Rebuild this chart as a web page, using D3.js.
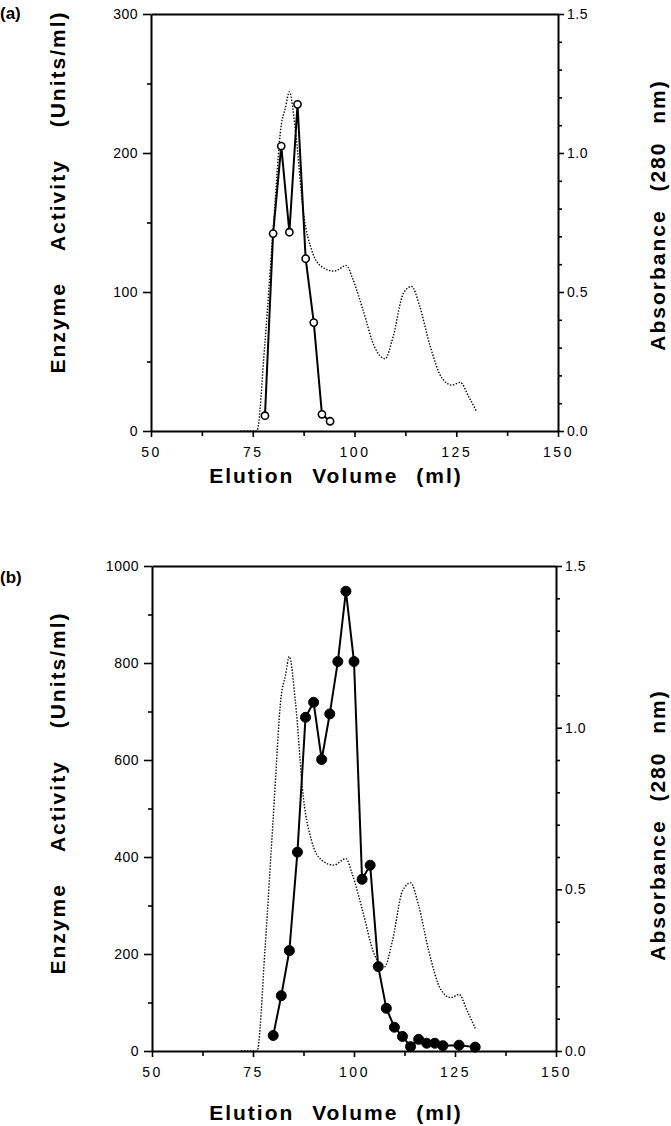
<!DOCTYPE html>
<html>
<head>
<meta charset="utf-8">
<script src="https://cdn.jsdelivr.net/npm/d3@7"></script>
<style>
  html, body { margin: 0; padding: 0; background: #fff; }
  svg { display: block; }
  text { font-family: "Liberation Sans", Arial, sans-serif; fill: #000; }
  .tick text { font-size: 14px; }
  .x-axis .tick text { letter-spacing: 2.5px; }
  .y-axis .tick text { letter-spacing: 0.5px; }
  .title { font-size: 21px; font-weight: bold; letter-spacing: 2px; }
  .title.vert { word-spacing: 24px; }
  .title.horiz { word-spacing: 10px; }
  .tag { font-size: 17px; font-weight: bold; }
</style>
</head>
<body>
<script>
// elution volume (ml) and absorbance at 280 nm, same column profile in both runs
const absVolume = [72, 76, 78, 80, 82, 83, 84, 85.5, 87.5, 89.5, 92, 95, 98, 99.5, 102, 105, 107.5, 109.5, 112, 114, 116, 118.5, 121.5, 124, 126, 128, 130];
const absValues = [0, 0, 0.32, 0.72, 1.10, 1.16, 1.22, 1.08, 0.78, 0.65, 0.59, 0.575, 0.595, 0.55, 0.44, 0.30, 0.26, 0.34, 0.495, 0.52, 0.45, 0.31, 0.19, 0.165, 0.175, 0.125, 0.07];

// panel (a) enzyme activity, open circles
const volumeA = [78, 80, 82, 84, 86, 88, 90, 92, 94];
const activityA = [11, 142, 205, 143, 235, 124, 78, 12, 7];

// panel (b) enzyme activity, filled circles
const volumeB = [80, 82, 84, 86, 88, 90, 92, 94, 96, 98, 100, 102, 104, 106, 108, 110, 112, 114, 116, 118, 120, 122, 126, 130];
const activityB = [32, 114, 207, 410, 688, 719, 601, 695, 803, 948, 803, 354, 383, 174, 88, 49, 30, 9, 24, 16, 16, 11, 12, 8];

const xTicks = [50, 75, 100, 125, 150];
const xMinor = [62.5, 87.5, 112.5, 137.5];
const absTicks = [0, 0.5, 1.0, 1.5];
const absMinor = [0.1, 0.2, 0.3, 0.4, 0.6, 0.7, 0.8, 0.9, 1.1, 1.2, 1.3, 1.4];

const w = 671, h = 1126;

const svg = d3.select('body').append('svg')
  .attr('width', w)
  .attr('height', h);

const drawPanel = (p) => {
  const g = svg.append('g');

  const x = d3.scaleLinear().domain([50, 150]).range([p.left, p.right]);
  const yL = d3.scaleLinear().domain([0, p.yMax]).range([p.bottom, p.top]);
  const yR = d3.scaleLinear().domain([0, 1.5]).range([p.bottom, p.top]);

  const thick = sel => sel.select('.domain').attr('stroke-width', 2).attr('stroke', '#000');
  const ticks = sel => sel.selectAll('.tick line').attr('stroke-width', 1.6).attr('stroke', '#000');

  // minor ticks first so majors sit on top
  g.append('g')
    .attr('transform', `translate(0,${p.bottom})`)
    .call(d3.axisBottom(x).tickValues(xMinor).tickSize(5).tickFormat(''))
    .call(ticks).select('.domain').remove();
  g.append('g')
    .attr('transform', `translate(${p.left},0)`)
    .call(d3.axisLeft(yL).tickValues(p.yMinor).tickSize(4).tickFormat(''))
    .call(ticks).select('.domain').remove();
  g.append('g')
    .attr('transform', `translate(${p.right},0)`)
    .call(d3.axisRight(yR).tickValues(absMinor).tickSize(4).tickFormat(''))
    .call(ticks).select('.domain').remove();

  // top frame
  g.append('g')
    .attr('transform', `translate(0,${p.top})`)
    .call(d3.axisTop(x).tickValues([]).tickSizeOuter(0))
    .call(thick);

  g.append('g')
    .attr('class', 'x-axis')
    .attr('transform', `translate(0,${p.bottom})`)
    .call(d3.axisBottom(x).tickValues(xTicks).tickSize(6).tickSizeOuter(0).tickPadding(10))
    .call(thick).call(ticks);

  g.append('g')
    .attr('class', 'y-axis')
    .attr('transform', `translate(${p.left},0)`)
    .call(d3.axisLeft(yL).tickValues(p.yTicks).tickFormat(d3.format('d')).tickSize(8).tickSizeOuter(0).tickPadding(5))
    .call(thick).call(ticks);

  g.append('g')
    .attr('class', 'y-axis')
    .attr('transform', `translate(${p.right},0)`)
    .call(d3.axisRight(yR).tickValues(absTicks).tickFormat(d3.format('.1f')).tickSize(6).tickSizeOuter(0).tickPadding(3))
    .call(thick).call(ticks);

  // absorbance trace, dotted
  const absLine = d3.line()
    .x((d, i) => x(absVolume[i]))
    .y(d => yR(d))
    .curve(d3.curveMonotoneX);
  g.append('path')
    .datum(absValues)
    .attr('d', absLine)
    .attr('fill', 'none')
    .attr('stroke', '#000')
    .attr('stroke-width', 1.4)
    .attr('stroke-dasharray', '1.4,1.6');

  // enzyme activity
  const actLine = d3.line()
    .x((d, i) => x(p.volume[i]))
    .y(d => yL(d));
  g.append('path')
    .datum(p.activity)
    .attr('d', actLine)
    .attr('fill', 'none')
    .attr('stroke', '#000')
    .attr('stroke-width', 2);

  g.selectAll('circle.pt')
    .data(p.activity)
    .join('circle')
    .attr('class', 'pt')
    .attr('cx', (d, i) => x(p.volume[i]))
    .attr('cy', d => yL(d))
    .attr('r', p.filled ? 5 : 3.6)
    .attr('fill', p.filled ? '#000' : '#fff')
    .attr('stroke', '#000')
    .attr('stroke-width', p.filled ? 1 : 1.6);

  // titles
  g.append('text')
    .attr('class', 'title vert')
    .attr('text-anchor', 'middle')
    .attr('transform', `translate(65,${p.leftTitleY}) rotate(-90)`)
    .text('Enzyme Activity (Units/ml)');
  g.append('text')
    .attr('class', 'title horiz')
    .attr('text-anchor', 'middle')
    .attr('transform', `translate(665,${p.rightTitleY}) rotate(-90)`)
    .text('Absorbance (280 nm)');
  g.append('text')
    .attr('class', 'title horiz')
    .attr('text-anchor', 'middle')
    .attr('x', 336)
    .attr('y', p.xTitleY)
    .text('Elution Volume (ml)');
  g.append('text')
    .attr('class', 'tag')
    .attr('x', 0)
    .attr('y', p.tagY)
    .text(p.tag);
};

drawPanel({
  tag: '(a)', tagY: 19,
  left: 151, right: 558, top: 14, bottom: 431,
  yMax: 300, yTicks: [0, 100, 200, 300], yMinor: [50, 150, 250],
  volume: volumeA, activity: activityA, filled: false,
  xTitleY: 483, leftTitleY: 192, rightTitleY: 215
});

drawPanel({
  tag: '(b)', tagY: 583,
  left: 152, right: 556, top: 566, bottom: 1051,
  yMax: 1000, yTicks: [0, 200, 400, 600, 800, 1000], yMinor: [100, 300, 500, 700, 900],
  volume: volumeB, activity: activityB, filled: true,
  xTitleY: 1120, leftTitleY: 793, rightTitleY: 825
});
</script>
</body>
</html>
